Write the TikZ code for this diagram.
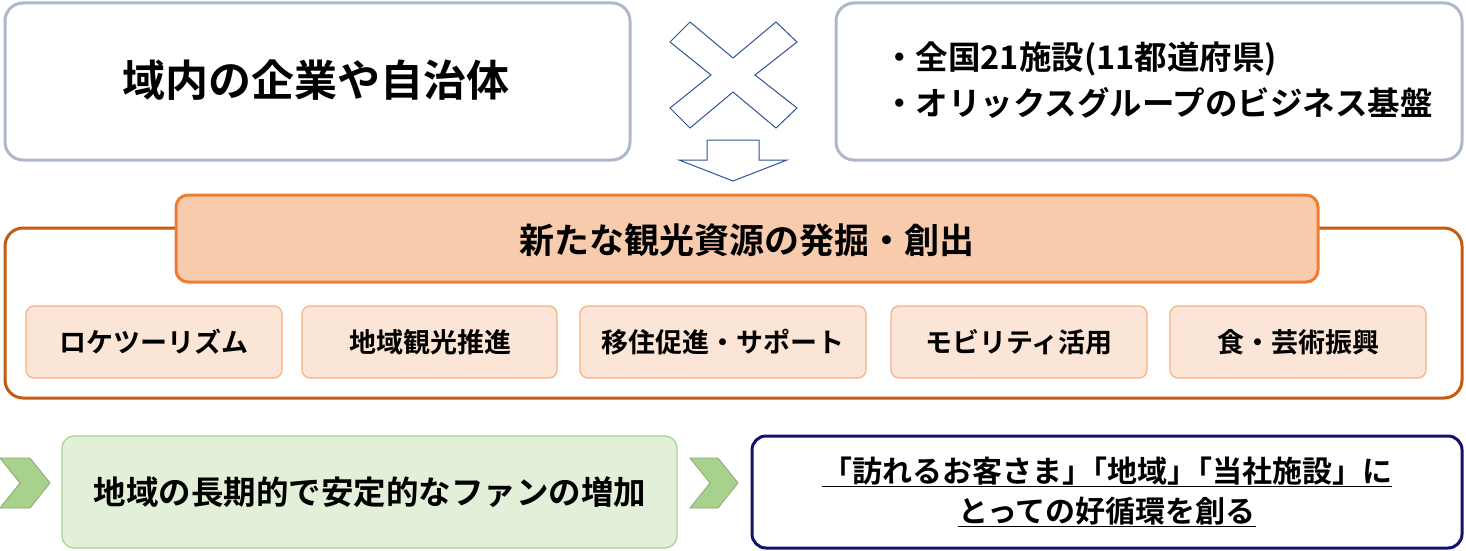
\documentclass[tikz,border=0pt]{standalone}
\usepackage{fontspec}
\setmainfont{Noto Sans CJK JP}[BoldFont={Noto Sans CJK JP Bold}]
\definecolor{grayb}{HTML}{ADB9CA}
\definecolor{orb}{HTML}{C55A11}
\definecolor{orh}{HTML}{ED7D31}
\definecolor{orf}{HTML}{F8CBAD}
\definecolor{ors}{HTML}{FBE5D6}
\definecolor{orsb}{HTML}{F4B183}
\definecolor{grf}{HTML}{E2F0D9}
\definecolor{grb}{HTML}{A9D18E}
\definecolor{navy}{HTML}{12126B}
\definecolor{blu}{HTML}{2F5597}
\begin{document}
\begin{tikzpicture}[x=1pt,y=-1pt,
 box/.style={rounded corners=18pt,line width=3pt},
 sbox/.style={draw=orsb,fill=ors,rounded corners=8pt,line width=1.2pt},
 t/.style={font=\bfseries\fontsize{32.5}{46}\selectfont},
 st/.style={font=\bfseries\fontsize{27}{30}\selectfont}]
\useasboundingbox (0,0) rectangle (1466,551);
\draw[box,draw=grayb] (5,3) rectangle (630,160);
\node[font=\bfseries\fontsize{43}{46}\selectfont] (a) at (316,80) {域内の企業や自治体};
\draw[box,draw=grayb] (836,3) rectangle (1462,160);
\node[t,align=left] (b) at (1158,80) {・全国21施設(11都道府県)\\・オリックスグループのビジネス基盤};
\draw[blu,line width=1pt,fill=white] (670,42)--(690,22)--(733,58)--(776,22)--(797,42)--(755,75)--(797,108)--(776,128)--(733,92)--(690,128)--(670,108)--(711,75)--cycle;
\draw[blu,line width=1pt,fill=white] (707,140)--(759,140)--(759,160)--(787,160)--(733,181)--(679,160)--(707,160)--cycle;
\draw[box,draw=orb] (5,228) rectangle (1462,398);
\draw[draw=orh,fill=orf,rounded corners=12pt,line width=3pt] (176,195) rectangle (1318,282);
\node[font=\bfseries\fontsize{35}{40}\selectfont] (h) at (747,240) {新たな観光資源の発掘・創出};
\draw[sbox] (26,306) rectangle (282,378); \node[st] (s1) at (154,342) {ロケツーリズム};
\draw[sbox] (302,306) rectangle (557,378); \node[st] (s2) at (430,342) {地域観光推進};
\draw[sbox] (580,306) rectangle (866,378); \node[st] (s3) at (723,342) {移住促進・サポート};
\draw[sbox] (891,306) rectangle (1147,378); \node[st] (s4) at (1019,342) {モビリティ活用};
\draw[sbox] (1170,306) rectangle (1426,378); \node[st] (s5) at (1298,342) {食・芸術振興};
\draw[grb!80!black,fill=grb,line width=0.8pt] (0,458)--(30,458)--(50,483)--(30,508)--(0,508)--(20,483)--cycle;
\draw[draw=grb,fill=grf,rounded corners=12pt,line width=1.2pt] (62,436) rectangle (677,548);
\node[t] (g) at (370,492) {地域の長期的で安定的なファンの増加};
\draw[grb!80!black,fill=grb,line width=0.8pt] (690,458)--(718,458)--(738,483)--(718,508)--(690,508)--(710,483)--cycle;
\draw[draw=navy,rounded corners=14pt,line width=3pt] (752,436) rectangle (1462,548);
\node[t,align=center,font=\bfseries\fontsize{30}{40}\selectfont] (n) at (1107,492) {\underline{「訪れるお客さま」\kern-0.5em「地域」\kern-0.5em「当社施設」に}\\\underline{とっての好循環を創る}};
\end{tikzpicture}
\end{document}
